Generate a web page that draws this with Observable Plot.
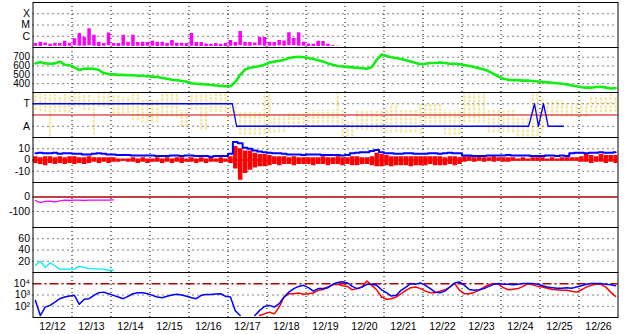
<!DOCTYPE html>
<html><head><meta charset="utf-8">
<script src="https://cdn.jsdelivr.net/npm/d3@7"></script>
<script src="https://cdn.jsdelivr.net/npm/@observablehq/plot@0.6"></script>
<style>
html,body{margin:0;padding:0;background:#fff;}
#chart{position:relative;width:628px;height:334px;overflow:hidden;background:#fff;}
#chart svg{position:absolute;left:0;overflow:visible;}
</style></head><body><div id="chart"></div>
<script>
// ---------- time axis ----------
const startUTC = Date.UTC(2012, 11, 12);
const dayLabels = ["12/12","12/13","12/14","12/15","12/16","12/17","12/18","12/19","12/20","12/21","12/22","12/23","12/24","12/25","12/26"];

// ---------- panel 1: X-ray flux (3-hour bins, low / high) ----------
const xrayTicks = [1e-4, 1e-5, 1e-6];
const xrayTickLabels = ["X", "M", "C"];
const xrayHigh = [
 2.3e-7,3.0e-7,2.5e-7,1.9e-7,2.4e-7,2.3e-7,3.6e-7,2.3e-7,
 5.9e-7,1.8e-6,8.2e-7,4.6e-6,1.2e-6,3.0e-7,2.3e-7,1.9e-6,
 2.3e-7,2.3e-7,1.2e-6,3.0e-7,1.2e-6,2.8e-7,3.0e-7,2.8e-7,
 3.6e-7,3.0e-7,3.0e-7,2.3e-7,4.2e-7,2.4e-7,2.4e-7,2.3e-7,
 1.8e-6,2.8e-7,2.8e-7,2.0e-7,1.9e-7,2.3e-7,1.9e-7,2.3e-7,
 4.2e-7,2.8e-7,2.6e-6,3.0e-7,2.8e-7,2.5e-7,8.2e-7,7.7e-7,
 3.0e-7,2.8e-7,4.2e-7,3.8e-7,2.0e-6,6.3e-7,2.0e-6,3.0e-7,
 2.1e-7,1.9e-7,3.6e-7,3.4e-7,1.9e-7,1.4e-7,1.3e-7];
const xrayLow = [
 1.3e-7,1.2e-7,1.4e-7,1.2e-7,1.3e-7,1.3e-7,1.2e-7,1.3e-7,
 1.4e-7,1.3e-7,1.3e-7,1.4e-7,1.3e-7,1.2e-7,1.3e-7,1.4e-7,
 1.3e-7,1.2e-7,1.3e-7,1.3e-7,1.2e-7,1.3e-7,1.2e-7,1.3e-7,
 1.3e-7,1.2e-7,1.3e-7,1.2e-7,1.3e-7,1.2e-7,1.3e-7,1.2e-7,
 1.3e-7,1.2e-7,1.2e-7,1.2e-7,1.2e-7,1.2e-7,1.2e-7,1.2e-7,
 1.3e-7,1.3e-7,1.4e-7,1.3e-7,1.3e-7,1.4e-7,1.4e-7,1.3e-7,
 1.3e-7,1.3e-7,1.4e-7,1.3e-7,1.4e-7,1.4e-7,1.3e-7,1.3e-7,
 1.2e-7,1.2e-7,1.2e-7,1.3e-7,1.2e-7,1.2e-7,1.2e-7];

// ---------- panel 2: solar wind speed ----------
const speedTicks = [400, 500, 600, 700];
const speed = [
 630,645,630,625,630,650,615,610,
 585,555,570,572,570,555,520,510,
 505,500,500,495,495,490,490,485,
 480,475,465,455,445,440,430,425,
 405,400,395,390,385,380,375,370,
 370,420,500,560,580,590,600,615,
 640,650,660,670,690,700,705,700,
 690,680,665,650,630,615,600,595,
 590,585,580,575,570,590,670,730,
 715,700,690,680,665,650,635,620,
 625,635,635,640,635,625,625,620,
 610,600,590,575,560,540,510,480,
 455,445,440,440,435,435,430,425,
 420,415,410,405,400,390,380,370,
 360,355,355,362,365,355,345,350];

// ---------- panel 3: IMF direction (T / A) ----------
const imfTicks = [1, -1];
const imfTickLabels = ["T", "A"];
const imfHigh = [
 1.9,1.9,1.8,1.8,1.8,1.7,1.8,1.7,
 1.9,1.9,1.8,1.8,1.5,1.9,1.9,1.9,
 1.8,1.8,1.6,1.6,1.9,1.9,1.3,1.3,
 1.3,1.3,1.9,1.9,1.9,1.9,0.4,0.5,
 1.9,1.9,1.9,1.9,1.8,1.9,1.9,1.9,
 1.0,1.0,0.2,0.2,0.2,0.2,0.2,1.8,
 1.8,0.0,0.0,0.0,0.2,0.2,0.2,0.2,
 0.4,0.4,0.4,0.4,0.4,0.4,1.9,0.4,
 -0.5,-0.5,0.4,0.4,0.4,0.4,0.4,0.4,
 0.4,1.0,1.0,0.4,0.4,0.4,0.4,1.0,
 1.0,1.0,1.0,1.0,0.4,0.4,0.4,0.4,
 1.9,1.9,1.9,1.9,1.9,0.4,0.4,0.4,
 0.4,0.4,0.4,-0.2,-0.2,-0.2,1.9,1.9,
 1.5,1.3,1.3,1.3,1.3,1.0,1.0,1.0,
 1.0,1.0,1.6,1.6,1.6,1.6,1.9,1.6];
const imfLow = [
 0.4,0.3,0.2,-1.95,0.2,0.2,0.2,0.2,
 0.7,0.7,0.4,0.4,-1.8,0.7,0.7,0.7,
 0.0,0.0,0.1,0.1,-0.5,-0.5,-0.7,-0.7,
 -0.7,-0.7,-0.2,-0.2,-0.2,-0.2,-1.1,-1.1,
 0.4,0.4,-1.35,-1.35,0.2,0.2,0.2,0.2,
 -0.2,-0.2,-1.8,-1.8,-1.8,-1.8,-1.8,-1.8,
 -1.6,-1.6,-1.6,-1.6,-1.2,-1.2,-1.2,-1.2,
 -1.1,-1.1,-1.1,-1.1,-1.1,-1.1,-1.1,-1.95,
 -1.95,-1.95,-1.35,-1.35,-1.35,-1.35,-1.35,-1.35,
 -1.6,-1.6,-1.6,-1.6,-1.6,-1.6,-1.6,-1.8,
 -1.1,-1.1,-1.1,-1.1,-1.8,-1.8,-1.8,-1.8,
 -0.7,-0.7,-0.7,-0.7,-0.7,-1.6,-1.6,-1.6,
 -1.6,-1.6,-1.6,-1.95,-1.95,-1.95,-1.95,-1.95,
 -1.5,-0.2,-0.2,-0.2,-0.2,-0.2,-0.2,-0.2,
 -0.2,-0.2,0.2,0.2,0.2,0.2,0.2,0.2];
const sectorDay = [0, 5.11, 5.22, 12.71, 12.86, 12.96, 13.09, 13.21, 13.6];
const sectorVal = [1, 1, -1, -1, 1, -1, 1, -1, -1];

// ---------- panel 4: Bt (blue) and Bz (red) ----------
const bTicks = [10, 0, -10];
const bt = [
 6,6.5,6,6,6.5,5.5,6,6,
 5.5,5.5,5,5,5.5,6,5.5,5,
 5,4.5,4.5,4.5,4,4,4,4,
 4,3.5,3.5,3.5,4,4,3.5,4,
 4,3.5,3.5,3.5,3,3.5,3.5,3.5,
 5.5,16,15,11,10,8.5,7.5,7,
 6.5,6,6,5.5,5,5,5,4.5,
 5,5,5,4.5,4.5,4.5,4.5,4,
 4.5,6,6.5,7,7,8,9,7,
 6,6,5.5,5.5,6,6,5.5,5.5,
 5.5,6,6,5.5,6,6.5,6,6,
 4,4,3.5,3.5,3.5,4,4,4,
 4,4.5,4,4,4,4,3.5,3.5,
 3.5,4,4,3.5,4,3.5,6,6.5,
 6.5,6,6.5,6.5,7,6.5,6.5,7];
const bzLow = [
 -3,-4,-5,-3,-4,-3,-4,-3,
 -4,-3,-4,-3,-2,-3,-2,-3,
 -2,-2,-1,-2,-2,-3,-2,-3,
 -2,-2,-3,-2,-3,-2,-3,-2,
 -2,-3,-2,-3,-2,-2,-3,-2,
 -3,-8,-18,-12,-9,-7,-6,-6,
 -5,-4,-5,-4,-4,-5,-4,-4,
 -4,-5,-4,-4,-5,-4,-4,-5,
 -4,-5,-5,-4,-4,-5,-6,-6,
 -5,-6,-5,-5,-5,-6,-5,-5,
 -5,-4,-5,-5,-5,-4,-5,-4,
 -2,-1,-2,-1,-2,-1,-2,-1,
 -2,-2,-1,-1,-1,-1,-1,-1,
 -1,-1,-1,-1,-1,-1,-1,-1,
 -2,-2,-3,-2,-2,-3,-2,-3];
const bzHigh = [
 3,2,3,3,2,3,2,3,
 3,2,2,3,2,2,2,2,
 2,1,1,1,2,1,2,1,
 1,2,1,2,1,2,2,1,
 2,1,2,1,2,1,2,1,
 3,12,10,8,8,6,5,5,
 4,3,3,3,2,3,2,2,
 2,2,2,3,2,2,3,2,
 2,3,3,2,2,3,6,5,
 4,3,3,3,3,3,3,3,
 3,3,3,3,2,3,3,2,
 3,3,2,3,2,2,3,2,
 2,2,2,1,2,1,2,2,
 2,1,2,1,2,2,2,2,
 3,5,4,3,5,4,4,4];

// ---------- panel 5 (magenta) and panel 6 (cyan), first two days ----------
const dstTicks = [0, -100];
const dst = [-24,-38,-30,-28,-33,-26,-22,-24,-22,-21,-24,-22,-21,-22,-21,-21,-20];
const p6Ticks = [60, 40, 20];
const p6 = [13,20,9,17,12,6,6,6,6,11,9,7,7,6,6,4,4];

// ---------- panel 7: electron flux ----------
const elecTicks = [1e4, 1e3, 1e2];
const elecTickLabels = ["10\u2074", "10\u00b3", "10\u00b2"];
const elecBlue = [
 330,15,83,120,230,470,660,800,
 930,150,420,470,930,1600,1800,1300,
 930,660,470,760,1300,1600,1600,1300,
 930,660,580,760,1000,1150,1000,760,
 580,470,930,1100,1100,1200,1300,760,
 660,40,15,null,null,15,43,95,
 120,83,170,660,1800,3700,5800,7200,
 4500,2200,3700,3700,4500,8900,13000,15000,
 11700,5800,3700,5100,8900,8900,7200,2900,
 1600,800,930,2600,5100,10500,8900,12000,
 7200,3700,1800,1600,2200,5100,11700,14500,
 7200,3100,2600,2900,3700,5800,8900,10500,
 8900,8900,8000,8900,10500,10500,10500,8900,
 6700,5100,4500,4000,4000,4500,4000,5100,
 6700,8900,10500,10500,10500,8900,8000,6700];
const elecRedFirstBin = 46;
const elecRed = [
 15,21,
 30,21,83,660,1300,1300,1500,1150,
 1300,1500,2600,3100,5100,8000,8900,6700,
 5800,2900,3700,5100,17800,7200,2900,660,
 420,470,660,1300,2600,4500,5100,3700,
 2200,1600,1600,2200,2900,5100,10500,2600,
 1300,1300,1700,2600,5100,8000,10500,8900,
 4500,2900,3300,3700,5800,10500,8000,5800,
 5100,4000,3100,2900,2600,2600,2200,1800,
 2900,5100,7200,8900,8900,5100,1800,760];

// ---------- build ----------
const DAY = 864e5, BIN = 3 * 3600e3;
const tBin = i => new Date(startUTC + (i + 0.5) * BIN);
const pts = (arr, off = 0) => arr.map((v, i) => ({t: tBin(i + off), v}));
const rng = (lo, hi) => lo.map((l, i) => ({t: tBin(i), lo: l, hi: hi[i]}));
const xDomain = [new Date(startUTC), new Date(startUTC + dayLabels.length * DAY)];
const dayEdges = dayLabels.slice(1).map((_, i) => new Date(startUTC + (i + 1) * DAY));
const dayNoons = dayLabels.map((_, i) => new Date(startUTC + (i + 0.5) * DAY));
const sector = sectorDay.map((d, i) => ({t: new Date(startUTC + d * DAY), v: sectorVal[i]}));

const W = 628, ML = 32.5, MR = 10.5, PH = 45, TOP = 2, XAX = 17;
const style = {fontFamily: "'Liberation Sans', Arial, sans-serif", fontSize: "10.5px", color: "#000", background: "transparent"};
const fmt = (ticks, labels) => d => labels[ticks.indexOf(d)];

function panel(k, {y, grid, marks, bottom = false, fontSize}) {
  const svg = Plot.plot({
    width: W, height: PH + (bottom ? XAX : 0),
    marginLeft: ML, marginRight: MR, marginTop: 0, marginBottom: bottom ? XAX : 0,
    style: fontSize ? {...style, fontSize} : style,
    x: bottom
      ? {type: "utc", domain: xDomain, ticks: dayNoons, tickFormat: d => dayLabels[Math.floor((d - startUTC) / DAY)], tickSize: 0, tickPadding: 5, label: null}
      : {type: "utc", domain: xDomain, axis: null},
    y: {...y, tickSize: 0, tickPadding: 3, label: null},
    marks: [
      Plot.ruleX(dayEdges, {stroke: "#000", strokeDasharray: "1,3"}),
      Plot.ruleY(grid, {stroke: "#000", strokeDasharray: "1,4"}),
      ...marks,
      Plot.frame({stroke: "#000"})
    ]
  });
  svg.style.top = (TOP + k * PH) + "px";
  document.getElementById("chart").appendChild(svg);
}

panel(0, {
  y: {type: "log", domain: [1e-7, 1e-3], ticks: xrayTicks, tickFormat: fmt(xrayTicks, xrayTickLabels)},
  grid: xrayTicks,
  marks: [Plot.ruleX(rng(xrayLow, xrayHigh), {x: "t", y1: "lo", y2: "hi", stroke: "#ff00ff", strokeWidth: 3.5, clip: true})]
});
panel(1, {
  fontSize: "10px",
  y: {domain: [300, 810], ticks: speedTicks, tickFormat: d => String(d)},
  grid: speedTicks,
  marks: [Plot.line(pts(speed), {x: "t", y: "v", stroke: "#11ee11", strokeWidth: 2.6, clip: true})]
});
panel(2, {
  y: {domain: [-2, 2], ticks: imfTicks, tickFormat: fmt(imfTicks, imfTickLabels)},
  grid: [],
  marks: [
    Plot.ruleX(rng(imfLow, imfHigh), {x: "t", y1: "lo", y2: "hi", stroke: "#f6e6a0", strokeWidth: 2.2, strokeDasharray: "3,1", clip: true}),
    Plot.ruleY(imfTicks, {stroke: "#000", strokeDasharray: "1,4"}),
    Plot.ruleY([0], {stroke: "#cc0000", strokeWidth: 1.2}),
    Plot.line(sector, {x: "t", y: "v", stroke: "#0000ff", strokeWidth: 1.3})
  ]
});
panel(3, {
  y: {domain: [-20, 20], ticks: bTicks, tickFormat: d => String(d)},
  grid: bTicks,
  marks: [
    Plot.ruleY([0], {stroke: "#ff0000"}),
    Plot.ruleX(rng(bzLow, bzHigh), {x: "t", y1: "lo", y2: "hi", stroke: "#ff0000", strokeWidth: 4.5, clip: true}),
    Plot.line(pts(bt), {x: "t", y: "v", stroke: "#0000ff", strokeWidth: 2, curve: "step", clip: true})
  ]
});
panel(4, {
  y: {domain: [-210, 100], ticks: dstTicks, tickFormat: d => String(d)},
  grid: [-100],
  marks: [
    Plot.ruleY([0], {stroke: "#aa0000", strokeWidth: 1.5}),
    Plot.line(pts(dst), {x: "t", y: "v", stroke: "#ff00ff", strokeWidth: 1.3})
  ]
});
panel(5, {
  y: {domain: [0, 80], ticks: p6Ticks, tickFormat: d => String(d)},
  grid: p6Ticks,
  marks: [Plot.line(pts(p6), {x: "t", y: "v", stroke: "#00eeee", strokeWidth: 1.3})]
});
panel(6, {
  bottom: true,
  y: {type: "log", domain: [10, 1e5], ticks: elecTicks, tickFormat: fmt(elecTicks, elecTickLabels)},
  grid: [1e3, 1e2],
  marks: [
    Plot.ruleY([1e4], {stroke: "#b00000", strokeWidth: 1.3, strokeDasharray: "9,3,2,3"}),
    Plot.line(pts(elecRed, elecRedFirstBin), {x: "t", y: "v", stroke: "#ff0000", strokeWidth: 1.5, clip: true}),
    Plot.line(pts(elecBlue), {x: "t", y: "v", stroke: "#0000ff", strokeWidth: 1.5, clip: true})
  ]
});
</script>
</body></html>
